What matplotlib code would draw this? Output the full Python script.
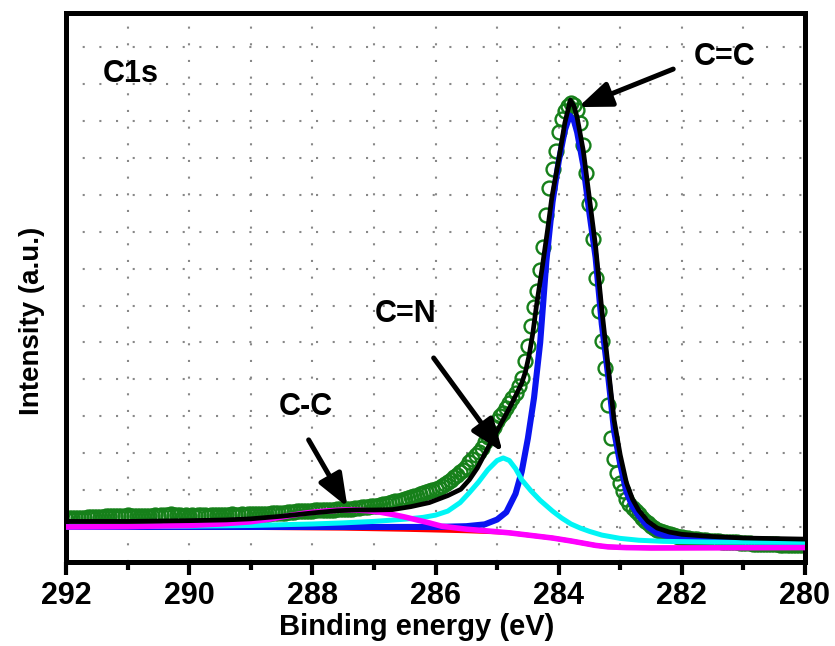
import numpy as np
import matplotlib
matplotlib.use("Agg")
import matplotlib.pyplot as plt
from matplotlib.ticker import MultipleLocator

plt.rcParams['font.family'] = ['Liberation Sans', 'DejaVu Sans']
plt.rcParams['font.weight'] = 'bold'

# ---- measured XPS data (C1s), binding energy grid 292 -> 280 eV, step 0.05 ----
energy = np.round(np.arange(292.0, 279.999, -0.05), 2)
intensity = [
    0.22, 0.23, 0.23, 0.24, 0.24, 0.25, 0.25, 0.26, 0.26, 0.27,
    0.27, 0.28, 0.28, 0.29, 0.30, 0.30, 0.31, 0.31, 0.30, 0.31,
    0.32, 0.31, 0.30, 0.31, 0.30, 0.30, 0.31, 0.30, 0.31, 0.32,
    0.31, 0.32, 0.33, 0.33, 0.34, 0.33, 0.32, 0.32, 0.31, 0.32,
    0.31, 0.32, 0.31, 0.32, 0.33, 0.32, 0.31, 0.32, 0.33, 0.32,
    0.32, 0.33, 0.32, 0.33, 0.34, 0.33, 0.33, 0.34, 0.33, 0.34,
    0.34, 0.35, 0.34, 0.35, 0.36, 0.35, 0.36, 0.37, 0.37, 0.38,
    0.38, 0.39, 0.40, 0.40, 0.41, 0.42, 0.42, 0.43, 0.43, 0.44,
    0.44, 0.45, 0.45, 0.45, 0.46, 0.46, 0.47, 0.47, 0.48, 0.48,
    0.49, 0.49, 0.50, 0.50, 0.51, 0.52, 0.53, 0.54, 0.55, 0.56,
    0.57, 0.58, 0.60, 0.61, 0.63, 0.65, 0.67, 0.69, 0.71, 0.73,
    0.75, 0.78, 0.80, 0.83, 0.85, 0.88, 0.91, 0.94, 0.97, 1.00,
    1.02, 1.06, 1.10, 1.16, 1.22, 1.28, 1.35, 1.42, 1.50, 1.55,
    1.62, 1.75, 1.85, 1.95, 2.02, 2.15, 2.30, 2.45, 2.58, 2.70,
    2.88, 3.00, 3.09, 3.22, 3.36, 3.50, 3.63, 3.82, 4.05, 4.50,
    4.90, 5.45, 5.95, 6.40, 6.96, 7.60, 8.45, 9.20, 9.70, 10.20,
    10.70, 11.05, 11.28, 11.42, 11.50, 11.45, 11.30, 10.95, 10.35, 9.60,
    8.75, 7.80, 6.75, 5.85, 5.05, 4.30, 3.30, 2.40, 1.85, 1.46,
    1.20, 0.98, 0.76, 0.62, 0.52, 0.43, 0.34, 0.25, 0.17, 0.10,
    0.03, -0.03, -0.07, -0.10, -0.14, -0.17, -0.20, -0.22, -0.24, -0.26,
    -0.28, -0.29, -0.31, -0.32, -0.33, -0.34, -0.35, -0.36, -0.36, -0.37,
    -0.38, -0.38, -0.39, -0.40, -0.40, -0.41, -0.41, -0.42, -0.42, -0.43,
    -0.43, -0.44, -0.44, -0.45, -0.45, -0.45, -0.46, -0.46, -0.46, -0.47,
    -0.47, -0.47, -0.48, -0.48, -0.48, -0.48, -0.49, -0.49, -0.49, -0.49,
    -0.50,
]

# ---- fitted curves ----
bg_E = [292, 289, 287.5, 286.5, 286, 285.5, 285, 284.8, 284.5, 284.1, 283.8,
        283.6, 283.4, 283.2, 282.9, 282.5, 280]
bg_I = [0.0, -0.02, -0.04, -0.07, -0.09, -0.11, -0.14, -0.16, -0.22, -0.30, -0.38,
        -0.44, -0.50, -0.54, -0.56, -0.57, -0.56]

cc_E = [292, 291, 290, 289.5, 289, 288.7, 288.4, 288.1, 287.8, 287.5, 287.3, 287.1,
        286.9, 286.7, 286.5, 286.3, 286.1, 285.9, 285.5, 285, 284.8, 284.5, 284.1,
        283.8, 283.6, 283.4, 283.2, 282.9, 282.5, 280]
cc_I = [0.0, 0.01, 0.04, 0.08, 0.14, 0.21, 0.30, 0.38, 0.43, 0.46, 0.46, 0.44,
        0.40, 0.34, 0.27, 0.19, 0.11, 0.02, -0.06, -0.13, -0.16, -0.22, -0.30,
        -0.38, -0.44, -0.50, -0.54, -0.56, -0.57, -0.56]

cn_E = [292, 290, 289, 288, 287.5, 287, 286.5, 286.2, 286.0, 285.8, 285.6, 285.45,
        285.3, 285.15, 285.0, 284.9, 284.8, 284.7, 284.6, 284.45, 284.3, 284.1,
        283.95, 283.8, 283.65, 283.5, 283.3, 283.0, 282.7, 282.3, 281.5, 280]
cn_I = [0.0, 0.02, 0.04, 0.08, 0.11, 0.15, 0.21, 0.26, 0.32, 0.43, 0.66, 0.93,
        1.22, 1.55, 1.80, 1.87, 1.80, 1.58, 1.28, 0.98, 0.72, 0.43,
        0.24, 0.08, -0.03, -0.12, -0.22, -0.31, -0.36, -0.39, -0.41, -0.42]

c2_E = [292, 289, 287, 286, 285.5, 285.2, 285.0, 284.85, 284.7, 284.6, 284.5, 284.4,
        284.3, 284.2, 284.1, 284.0, 283.9, 283.82, 283.75, 283.7, 283.6, 283.5,
        283.4, 283.3, 283.2, 283.1, 283.0, 282.9, 282.8, 282.7, 282.55, 282.4,
        282.2, 282.0, 281.5, 281.0, 280]
c2_I = [0.0, 0.0, 0.0, 0.0, 0.02, 0.07, 0.2, 0.4, 0.9, 1.5, 2.4, 3.5,
        5.0, 7.2, 8.8, 9.9, 10.75, 11.15, 11.0, 10.7, 9.8, 8.5,
        7.3, 5.5, 4.15, 2.6, 1.7, 0.95, 0.55, 0.3, 0.0, -0.17,
        -0.27, -0.32, -0.36, -0.38, -0.40]

env_E = [292, 291, 290, 289.4, 289, 288.5, 288, 287.6, 287.3, 287.0, 286.7, 286.4,
         286.1, 285.8, 285.59, 285.45, 285.32, 285.2, 285.06, 284.92, 284.79,
         284.68, 284.6, 284.54, 284.48, 284.42, 284.36,
         284.27, 284.18, 284.11, 284.0, 283.9, 283.81, 283.75, 283.7, 283.6, 283.5,
         283.4, 283.3, 283.2, 283.1, 283.0, 282.9, 282.8, 282.7, 282.55, 282.4,
         282.2, 282.0, 281.5, 281.0, 280]
env_I = [0.15, 0.15, 0.17, 0.19, 0.22, 0.29, 0.38, 0.44, 0.46, 0.46, 0.47, 0.55,
         0.66, 0.85, 1.02, 1.28, 1.6, 1.98, 2.42, 2.85, 3.25,
         3.62, 3.9, 4.2, 4.65, 5.25, 6.0,
         7.0, 8.05, 8.94, 9.95, 10.95, 11.57, 11.4, 11.1, 10.2, 8.9,
         7.6, 5.9, 4.4, 2.9, 1.95, 1.2, 0.75, 0.45, 0.15, -0.03,
         -0.14, -0.2, -0.26, -0.3, -0.33]

x_ticks = [292, 290, 288, 286, 284, 282, 280]

fig = plt.figure(figsize=(8.35, 6.46), dpi=100)
ax = fig.add_axes([66/835, 1-562/646, (805-66)/835, (562-13)/646])

ax.plot(energy, intensity, linestyle='none', marker='o', markersize=10,
        markerfacecolor='none', markeredgecolor='#16801a', markeredgewidth=1.7, zorder=2)
ax.plot(bg_E, bg_I, color='#ff0000', lw=3.2, zorder=3)
ax.plot(c2_E, c2_I, color='#0a14f0', lw=4.4, zorder=4)
ax.plot(cn_E, cn_I, color='#00f5f5', lw=3.6, zorder=4)
ax.plot(cc_E, cc_I, color='#ff00ff', lw=4.0, zorder=5)
ax.plot(env_E, env_I, color='black', lw=3.4, zorder=6)

ax.set_xlim(292, 280)
ax.set_ylim(-0.95, 13.93)

ax.set_xticks(x_ticks)
ax.set_xticklabels([str(t) for t in x_ticks])
ax.xaxis.set_minor_locator(MultipleLocator(1))
ax.set_yticks(np.arange(0, 14, 1))
ax.tick_params(axis='y', which='both', left=False, labelleft=False)
ax.tick_params(axis='x', which='major', direction='out', length=9.5, width=3,
               labelsize=22, pad=4.5, top=False)
ax.tick_params(axis='x', which='minor', direction='out', length=6, width=3, top=False)
for lab in ax.get_xticklabels():
    lab.set_fontweight('bold')

ax.grid(True, which='both', axis='x', color='#888888', lw=1.5, linestyle=(0, (1, 7)))
ax.grid(True, which='major', axis='y', color='#888888', lw=1.5, linestyle=(0, (1, 7)))
ax.set_axisbelow(True)

for s in ax.spines.values():
    s.set_linewidth(3.6)

ax.set_xlabel('Binding energy (eV)', fontsize=21, fontweight='bold')
ax.xaxis.set_label_coords((417-66)/739, (562-613)/549)
ax.set_ylabel('Intensity (a.u.)', fontsize=20, fontweight='bold')
ax.yaxis.label.set_va('center')
ax.yaxis.set_label_coords((32-66)/739, (562-321)/549)

ax.text(291.40, 12.06, 'C1s', fontsize=22, fontweight='bold', ha='left', va='baseline')
ax.text(281.31, 12.74, 'C=C', fontsize=22, fontweight='bold', ha='center', va='center')
ax.text(286.49, 5.77, 'C=N', fontsize=22, fontweight='bold', ha='center', va='center')
ax.text(288.11, 3.25, 'C-C', fontsize=22, fontweight='bold', ha='center', va='center')

arrow = dict(arrowstyle='-|>,head_length=0.9,head_width=0.35', mutation_scale=22,
             lw=3.6, color='black', shrinkA=0, shrinkB=0)
ax.annotate('', xy=(283.68, 11.38), xytext=(282.14, 12.41), arrowprops=arrow, zorder=8)
ax.annotate('', xy=(284.91, 2.03), xytext=(286.03, 4.58), arrowprops=arrow, zorder=8)
ax.annotate('', xy=(287.43, 0.54), xytext=(288.06, 2.36), arrowprops=arrow, zorder=8)

fig.savefig('out.png', dpi=100)
